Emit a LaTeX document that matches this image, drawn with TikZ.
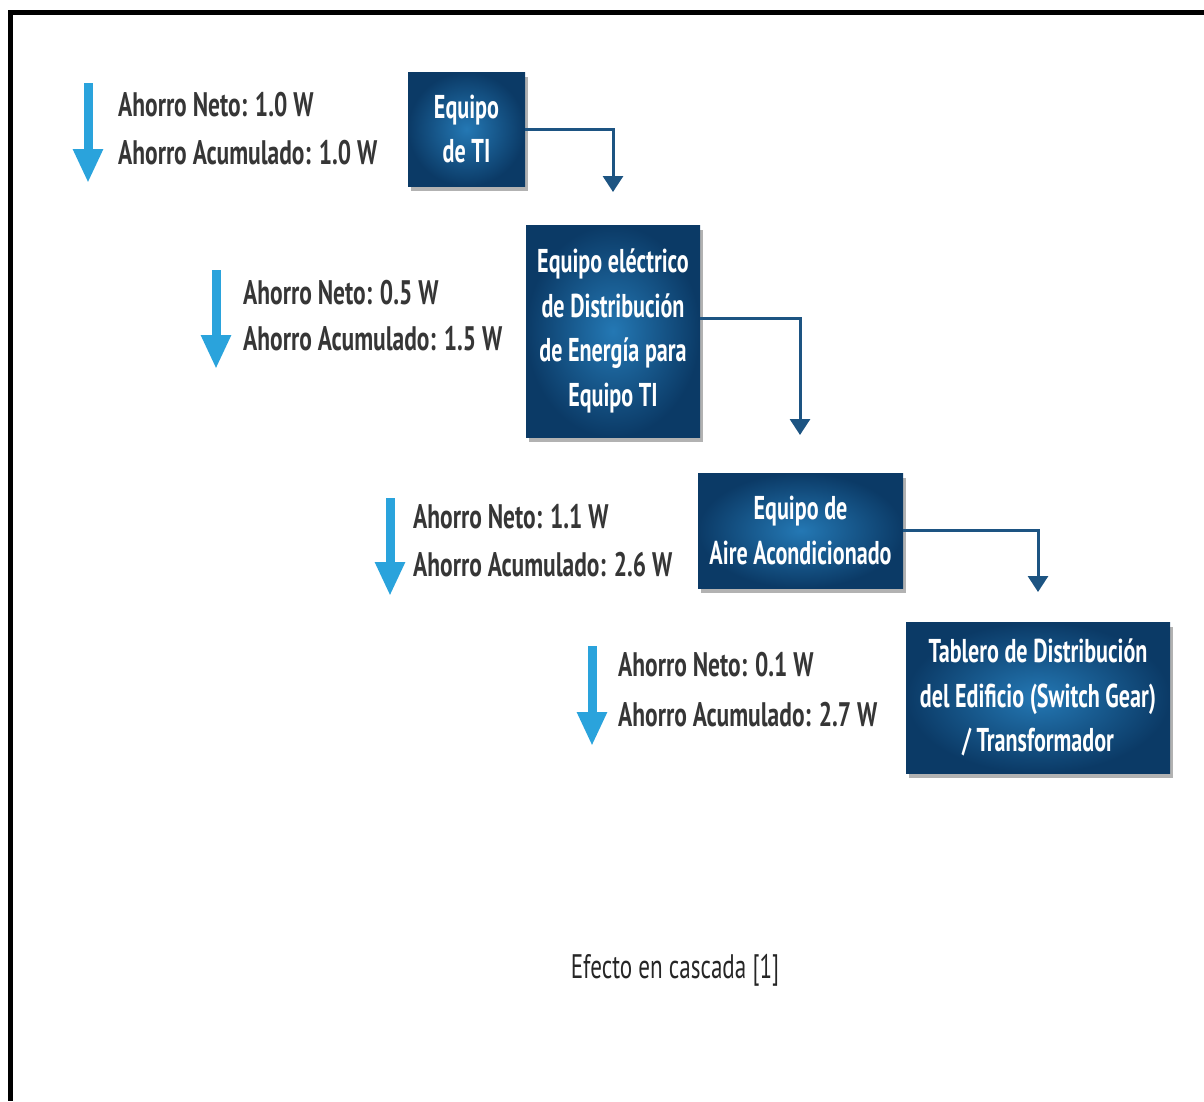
\documentclass[tikz,border=0pt]{standalone}
\usepackage{fontspec}
\setmainfont{PT Sans}[FakeStretch=0.78]
\newfontfamily\labelfam{PT Sans}[FakeStretch=0.69]
\newfontfamily\boxfam{PT Sans}[FakeStretch=0.67]
\newfontfamily\capfam{PT Sans}[FakeStretch=0.68]
\usetikzlibrary{arrows.meta,shadows,positioning}
\definecolor{boxdark}{HTML}{0B3A66}
\definecolor{boxlight}{HTML}{2478B4}
\definecolor{connblue}{HTML}{1D5482}
\definecolor{arrowblue}{HTML}{2AA3DC}
\definecolor{labelgray}{HTML}{363636}
\tikzset{
  x=1pt, y=-1pt,
  stagebox/.style={rectangle, inner sep=0pt, align=center, text=white,
    font=\boxfam\fontsize{33}{44.5}\selectfont\bfseries,
    inner color=boxlight, outer color=boxdark,
    drop shadow={shadow xshift=3pt, shadow yshift=-5pt, fill=black, opacity=0.3}},
  savelabel/.style={anchor=base west, inner sep=0pt, text=labelgray,
    font=\labelfam\fontsize{34}{36}\selectfont\bfseries},
  savearrow/.style={draw=arrowblue, line width=9pt,
    -{Triangle[width=28pt,length=34pt]}},
  conn/.style={draw=connblue, line width=3pt,
    -{Triangle[width=20pt,length=16pt]}},
  frameline/.style={draw=black, line width=5pt}
}
\begin{document}
\begin{tikzpicture}
\useasboundingbox (0,0) rectangle (1204,1101);
% frame
\coordinate (fTL) at (10,12);
\coordinate (fTR) at (1204,12);
\coordinate (fBL) at (10,1101);
\draw[frameline] (fTR) -- (fTL) -- (fBL);

% boxes
\node[stagebox, minimum width=117pt, minimum height=114pt] (b1) at (466.5,129)
  {Equipo\\de TI};
\node[stagebox, minimum width=174pt, minimum height=212pt] (b2) at (613,331)
  {Equipo eléctrico\\de Distribución\\de Energía para\\Equipo TI};
\node[stagebox, minimum width=205pt, minimum height=115pt] (b3) at (800.5,530.5)
  {Equipo de\\Aire Acondicionado};
\node[stagebox, minimum width=264pt, minimum height=151pt] (b4) at (1038,697.5)
  {Tablero de Distribución\\del Edificio (Switch Gear)\\/ Transformador};

% connectors
\coordinate (e1) at (613,192);
\coordinate (e2) at (800,435);
\coordinate (e3) at (1038,592);
\draw[conn] (b1.east) -| (e1);
\draw[conn] ([yshift=13pt]b2.east) -| (e2);
\draw[conn] (b3.east) -| (e3);

% saving arrows
\coordinate (a1s) at (88,83);  \coordinate (a1e) at (88,183);
\coordinate (a2s) at (216,270); \coordinate (a2e) at (216,369);
\coordinate (a3s) at (390,498); \coordinate (a3e) at (390,596);
\coordinate (a4s) at (592,646); \coordinate (a4e) at (592,746);
\draw[savearrow] (a1s) -- (a1e);
\draw[savearrow] (a2s) -- (a2e);
\draw[savearrow] (a3s) -- (a3e);
\draw[savearrow] (a4s) -- (a4e);

% labels
\node[savelabel] (n1) at (118,116) {Ahorro Neto: 1.0 W};
\node[savelabel] (c1) at (118,164) {Ahorro Acumulado: 1.0 W};
\node[savelabel] (n2) at (243,304) {Ahorro Neto: 0.5 W};
\node[savelabel] (c2) at (243,350) {Ahorro Acumulado: 1.5 W};
\node[savelabel] (n3) at (413,528) {Ahorro Neto: 1.1 W};
\node[savelabel] (c3) at (413,576) {Ahorro Acumulado: 2.6 W};
\node[savelabel] (n4) at (618,676) {Ahorro Neto: 0.1 W};
\node[savelabel] (c4) at (618,726) {Ahorro Acumulado: 2.7 W};

% caption
\node[anchor=base, inner sep=0pt, text=black!85,
  font=\capfam\fontsize{34}{36}\selectfont] (cap) at (675,978) {Efecto en cascada [1]};
\end{tikzpicture}
\end{document}
